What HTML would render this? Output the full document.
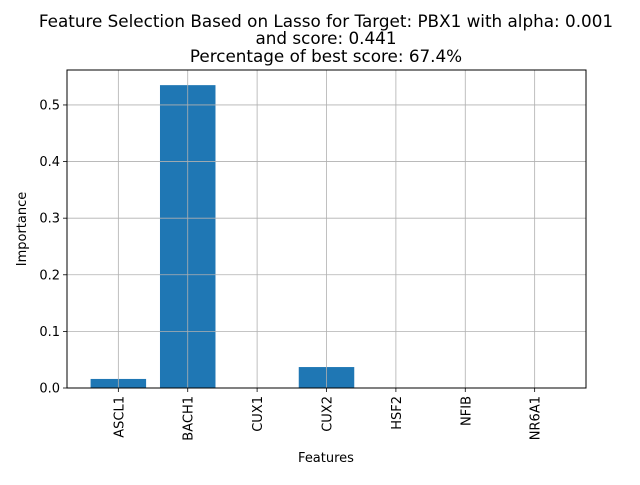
<!DOCTYPE html>
<html><head><meta charset="utf-8"><style>
body{margin:0;background:#fff;width:640px;height:480px;overflow:hidden}
svg text{font-family:"DejaVu Sans","Liberation Sans",sans-serif;fill:#000}
</style></head><body>
<svg id="c" width="640" height="480">
<text x="326" y="27" font-size="16.8" text-anchor="middle">Feature Selection Based on Lasso for Target: PBX1 with alpha: 0.001</text>
<text x="326" y="44" font-size="16.8" text-anchor="middle">and score: 0.441</text>
<text x="326" y="62" font-size="16.8" text-anchor="middle">Percentage of best score: 67.4%</text>
<g id="plot"></g>
<text x="326" y="462" font-size="13" text-anchor="middle">Features</text>
<text transform="translate(26,229) rotate(-90)" font-size="13" text-anchor="middle">Importance</text>
</svg>
<script>
const categories=["ASCL1","BACH1","CUX1","CUX2","HSF2","NFIB","NR6A1"];
const values=[0.016,0.535,0,0.037,0,0,0];
const yTicks=[0,0.1,0.2,0.3,0.4,0.5];
const yTickLabels=["0.0","0.1","0.2","0.3","0.4","0.5"];
const L=67,R=586,T=70,B=388;
const ymax=Math.max(...values)*1.05||1;
const y=v=>B-(v/ymax)*(B-T);
const n=categories.length;
const span=(n-1+0.8)*1.1, xmin=-0.4-(n-1+0.8)*0.05;
const x=i=>L+(i-xmin)/span*(R-L);
const bw=0.8/span*(R-L);
const g=document.getElementById('plot');
const NS="http://www.w3.org/2000/svg";
function mk(t,a){const e=document.createElementNS(NS,t);for(const k in a)e.setAttribute(k,a[k]);g.appendChild(e);return e;}
categories.forEach((c,i)=>{
 const r=mk('rect',{x:x(i)-bw/2,y:y(values[i]),width:bw,height:B-y(values[i]),fill:'#1f77b4'});
 
 
});
categories.forEach((c,i)=>{
 const l=mk('line',{x1:x(i),x2:x(i),y1:T,y2:B,stroke:'#b0b0b0','stroke-width':0.8});
 
 
 const tk=mk('line',{x1:x(i),x2:x(i),y1:B,y2:B+4,stroke:'#000','stroke-width':0.8});
 
 
 const t=mk('text',{transform:`translate(${x(i)+5},${B+8}) rotate(-90)`,'font-size':13,'text-anchor':'end'});
 t.textContent=c;
 
 
});
yTicks.forEach((v,i)=>{
 const l=mk('line',{x1:L,x2:R,y1:y(v),y2:y(v),stroke:'#b0b0b0','stroke-width':0.8});
 
 
 const tk=mk('line',{x1:L-4,x2:L,y1:y(v),y2:y(v),stroke:'#000','stroke-width':0.8});
 
 
 const t=mk('text',{x:L-7,y:y(v)+4.5,'font-size':13,'text-anchor':'end'});
 t.textContent=yTickLabels[i];
 
 
});
const fr=mk('rect',{x:L,y:T,width:R-L,height:B-T,fill:'none',stroke:'#000','stroke-width':1});


</script>
</body></html>
